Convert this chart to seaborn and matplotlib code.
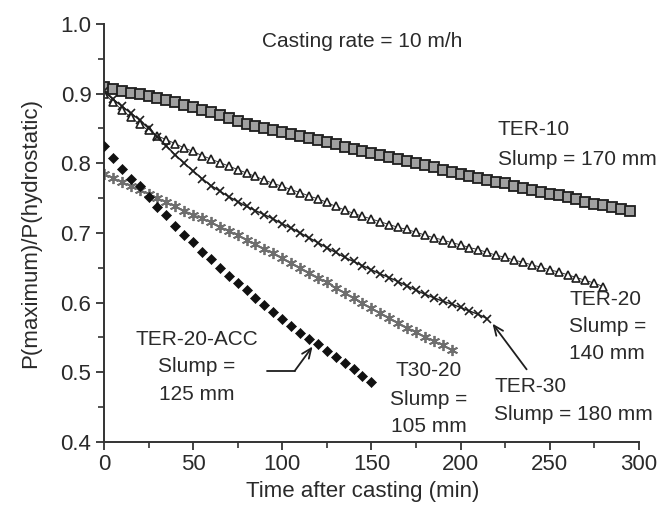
import numpy as np
import pandas as pd
import matplotlib
matplotlib.use("Agg")
import matplotlib.pyplot as plt
import seaborn as sns

# ---- data (time in min, pressure ratio) ----
t_ter10 = list(range(0, 300, 5))
p_ter10 = [0.910, 0.907, 0.904, 0.901, 0.899, 0.897, 0.894, 0.891, 0.888, 0.884,
           0.881, 0.877, 0.873, 0.869, 0.865, 0.861, 0.857, 0.854, 0.851, 0.848,
           0.845, 0.842, 0.839, 0.836, 0.833, 0.830, 0.827, 0.824, 0.821, 0.818,
           0.815, 0.812, 0.809, 0.806, 0.803, 0.800, 0.797, 0.794, 0.791, 0.788,
           0.785, 0.782, 0.779, 0.776, 0.773, 0.771, 0.768, 0.765, 0.762, 0.759,
           0.756, 0.754, 0.751, 0.748, 0.745, 0.742, 0.740, 0.737, 0.734, 0.731]

t_ter20 = list(range(0, 285, 5))
p_ter20 = [0.900, 0.888, 0.877, 0.866, 0.856, 0.847, 0.839, 0.834, 0.828, 0.822,
           0.817, 0.811, 0.806, 0.801, 0.796, 0.791, 0.786, 0.781, 0.776, 0.771,
           0.767, 0.762, 0.758, 0.753, 0.749, 0.744, 0.738, 0.733, 0.728, 0.724,
           0.720, 0.716, 0.712, 0.708, 0.705, 0.701, 0.697, 0.693, 0.690, 0.686,
           0.683, 0.679, 0.676, 0.672, 0.668, 0.665, 0.661, 0.658, 0.654, 0.651,
           0.647, 0.644, 0.640, 0.636, 0.632, 0.628, 0.623]

t_ter30 = list(range(0, 220, 5))
p_ter30 = [0.903, 0.892, 0.882, 0.872, 0.862, 0.850, 0.838, 0.825, 0.812, 0.800,
           0.789, 0.778, 0.768, 0.760, 0.752, 0.745, 0.738, 0.732, 0.726, 0.720,
           0.713, 0.707, 0.700, 0.693, 0.686, 0.679, 0.672, 0.665, 0.659, 0.653,
           0.647, 0.641, 0.636, 0.630, 0.624, 0.618, 0.612, 0.607, 0.602, 0.598,
           0.593, 0.588, 0.583, 0.577]

t_t3020 = list(range(0, 200, 5))
p_t3020 = [0.785, 0.779, 0.773, 0.768, 0.762, 0.756, 0.750, 0.744, 0.738, 0.732,
           0.726, 0.721, 0.715, 0.709, 0.703, 0.697, 0.690, 0.684, 0.677, 0.671,
           0.664, 0.657, 0.650, 0.643, 0.636, 0.629, 0.621, 0.614, 0.606, 0.599,
           0.592, 0.585, 0.578, 0.571, 0.564, 0.558, 0.551, 0.545, 0.539, 0.532]

t_acc = list(range(0, 155, 5))
p_acc = [0.825, 0.808, 0.792, 0.778, 0.767, 0.752, 0.737, 0.725, 0.710, 0.697,
         0.687, 0.673, 0.662, 0.650, 0.638, 0.628, 0.618, 0.607, 0.597, 0.587,
         0.577, 0.567, 0.557, 0.548, 0.540, 0.531, 0.522, 0.513, 0.504, 0.494,
         0.486]

x_ticks = [0, 50, 100, 150, 200, 250, 300]
y_ticks = [0.4, 0.5, 0.6, 0.7, 0.8, 0.9, 1.0]

sns.set_style("ticks")
plt.rcParams['font.family'] = ['Liberation Sans', 'DejaVu Sans']

fig = plt.figure(figsize=(6.62, 5.08), dpi=100)
ax = fig.add_axes([0.157, 0.130, 0.808, 0.823])

ink = '#1e1e1e'

# TER-10: grey-filled squares
sns.lineplot(x=t_ter10, y=p_ter10, ax=ax, color=ink, lw=1.0, marker='s',
             markersize=6.5, markerfacecolor='#a0a0a0', markeredgecolor=ink,
             markeredgewidth=1.3, estimator=None, sort=False)
# TER-20: open triangles
sns.lineplot(x=t_ter20, y=p_ter20, ax=ax, color=ink, lw=0.6, marker='^',
             markersize=5.5, markerfacecolor='white', markeredgecolor=ink,
             markeredgewidth=1.2, estimator=None, sort=False)
# TER-30: crosses on a line
sns.lineplot(x=t_ter30, y=p_ter30, ax=ax, color=ink, lw=1.0, marker='x',
             markersize=6, markeredgecolor=ink, markeredgewidth=1.2,
             estimator=None, sort=False)
# T30-20: grey asterisks
sns.lineplot(x=t_t3020, y=p_t3020, ax=ax, color='#7a7a7a', lw=1.0, marker=(6, 2, 0),
             markersize=8, markeredgecolor='#6e6e6e', markeredgewidth=1.3,
             estimator=None, sort=False)
# TER-20-ACC: black diamonds (no line)
sns.scatterplot(x=t_acc, y=p_acc, ax=ax, marker='D', s=26, color='#111111',
                edgecolor='#111111', linewidth=0.5, zorder=3)

ax.set_xlim(0, 300)
ax.set_ylim(0.4, 1.0)
ax.set_xticks(x_ticks)
ax.set_yticks(y_ticks)
ax.set_xticklabels([str(v) for v in x_ticks])
ax.set_yticklabels([f"{v:.1f}" for v in y_ticks])
ax.set_xticks(np.arange(25, 300, 50), minor=True)
ax.set_yticks(np.arange(0.45, 1.0, 0.1), minor=True)

for s in ['left', 'bottom']:
    ax.spines[s].set_linewidth(1.4)
    ax.spines[s].set_color('#333333')
sns.despine(ax=ax)
ax.tick_params(which='major', direction='out', length=6, width=1.3,
               colors='#333333', labelsize=16, labelcolor='#2a2a2a', pad=3)
ax.tick_params(which='minor', direction='out', length=4, width=1.2, colors='#333333')

ax.set_xlabel("Time after casting (min)", fontsize=16, color='#2a2a2a', labelpad=4)
ax.xaxis.label.set_x(0.484)
ax.set_ylabel("P(maximum)/P(hydrostatic)", fontsize=16, color='#2a2a2a', labelpad=14)

tc = '#2a2a2a'
fs = 15
ax.text(145, 0.974, "Casting rate = 10 m/h", fontsize=fs, color=tc, ha='center', va='center')
ax.text(221, 0.848, "TER-10", fontsize=fs, color=tc, ha='left', va='center')
ax.text(221, 0.805, "Slump = 170 mm", fontsize=fs, color=tc, ha='left', va='center')
ax.text(261, 0.605, "TER-20", fontsize=fs, color=tc, ha='left', va='center')
ax.text(261, 0.565, "Slump =", fontsize=fs, color=tc, ha='left', va='center')
ax.text(261, 0.527, "140 mm", fontsize=fs, color=tc, ha='left', va='center')
ax.text(219, 0.480, "TER-30", fontsize=fs, color=tc, ha='left', va='center')
ax.text(219, 0.440, "Slump = 180 mm", fontsize=fs, color=tc, ha='left', va='center')
ax.text(182, 0.502, "T30-20", fontsize=fs, color=tc, ha='center', va='center')
ax.text(182, 0.461, "Slump =", fontsize=fs, color=tc, ha='center', va='center')
ax.text(182, 0.422, "105 mm", fontsize=fs, color=tc, ha='center', va='center')
ax.text(52, 0.547, "TER-20-ACC", fontsize=fs, color=tc, ha='center', va='center')
ax.text(52, 0.508, "Slump =", fontsize=fs, color=tc, ha='center', va='center')
ax.text(52, 0.468, "125 mm", fontsize=fs, color=tc, ha='center', va='center')

# arrows
ax.annotate("", xy=(217, 0.573), xytext=(238, 0.501),
            arrowprops=dict(arrowstyle='->,head_length=0.7,head_width=0.3',
                            color=ink, lw=1.3))
ax.plot([91.5, 107], [0.502, 0.502], color=ink, lw=1.3)
ax.annotate("", xy=(117, 0.537), xytext=(107, 0.502),
            arrowprops=dict(arrowstyle='->,head_length=0.7,head_width=0.3',
                            color=ink, lw=1.3, shrinkA=0, shrinkB=0))

fig.savefig("out.png", dpi=100)
